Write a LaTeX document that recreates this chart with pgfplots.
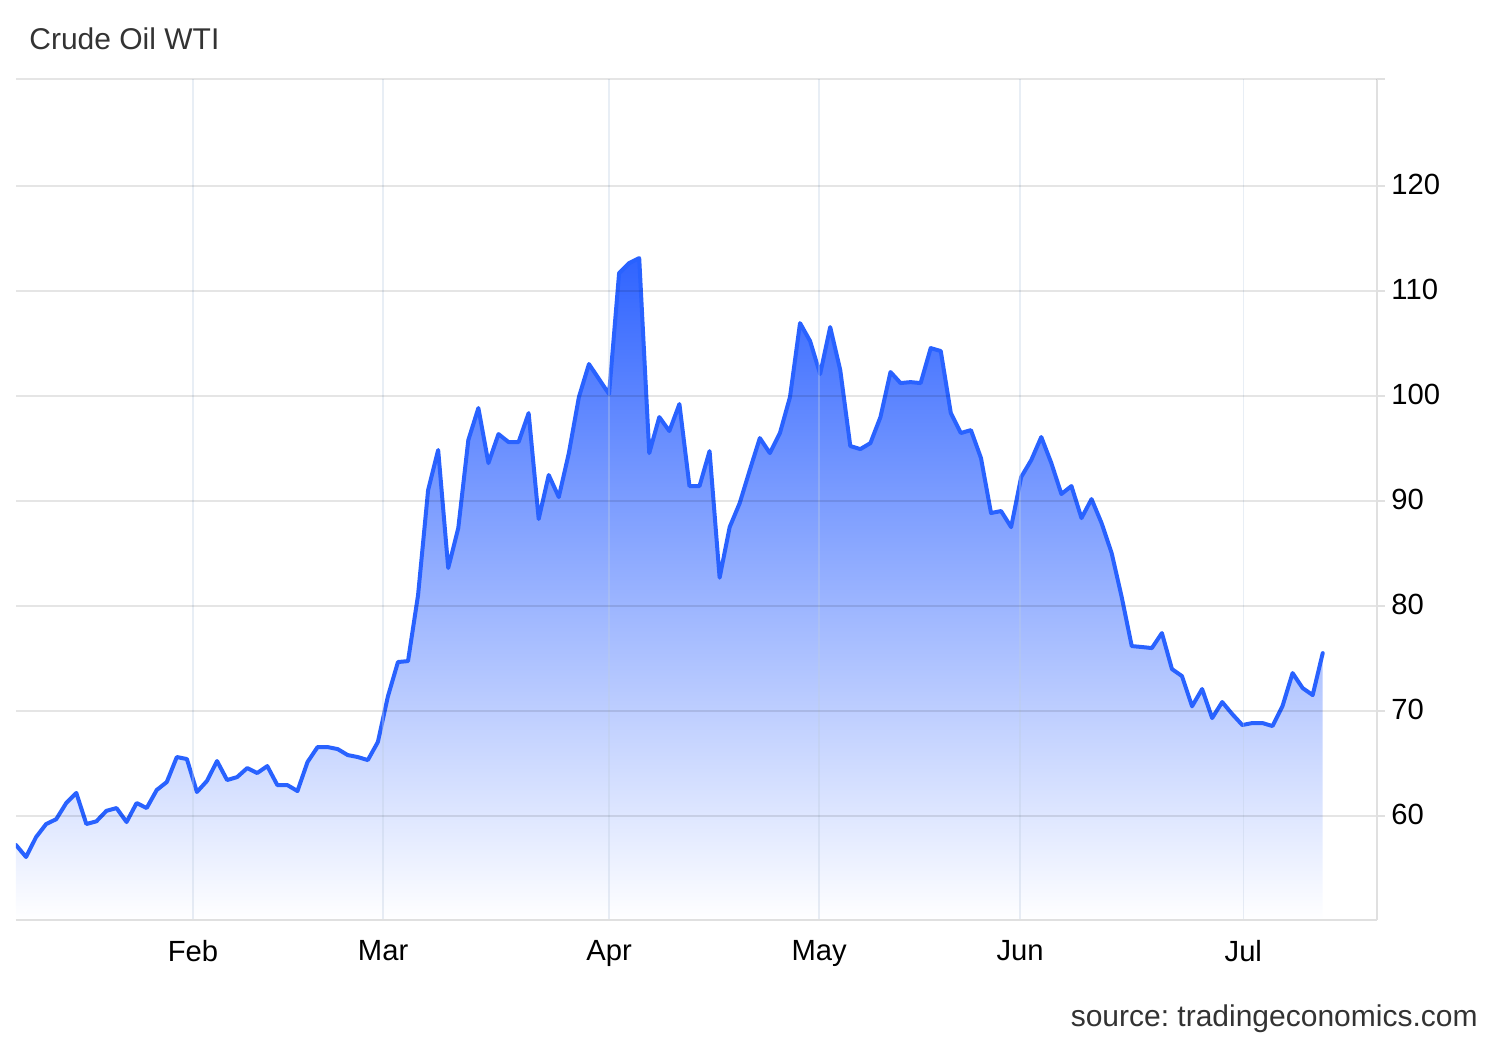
\documentclass[border=0pt]{standalone}
\usepackage{fontspec}
\setmainfont{Liberation Sans}
\usepackage{pgfplots}
\usepackage{pgfplotstable}
\pgfplotsset{compat=1.18}
\definecolor{lineblue}{RGB}{41,98,255}
\definecolor{fillblue}{RGB}{48,100,255}
\definecolor{axgray}{RGB}{224,224,224}
\definecolor{vgrid}{RGB}{190,205,225}
\definecolor{txt}{RGB}{51,51,51}
\pgfplotstableread{
x y
0 57.24
1 56.10
2 58.00
3 59.24
4 59.70
5 61.24
6 62.20
7 59.24
8 59.50
9 60.50
10 60.76
11 59.43
12 61.24
13 60.76
14 62.48
15 63.24
16 65.62
17 65.43
18 62.29
19 63.35
20 65.24
21 63.43
22 63.71
23 64.57
24 64.10
25 64.76
26 62.95
27 62.95
28 62.38
29 65.14
30 66.57
31 66.57
32 66.38
33 65.81
34 65.62
35 65.33
36 67.05
37 71.40
38 74.67
39 74.76
40 81.05
41 91.05
42 94.86
43 83.62
44 87.43
45 95.81
46 98.86
47 93.62
48 96.38
49 95.62
50 95.62
51 98.38
52 88.29
53 92.48
54 90.38
55 94.57
56 99.90
57 103.05
58 101.62
59 100.19
60 111.71
61 112.67
62 113.14
63 94.57
64 98.00
65 96.67
66 99.24
67 91.43
68 91.43
69 94.76
70 82.70
71 87.52
72 89.81
73 92.95
74 96.00
75 94.57
76 96.48
77 99.90
78 106.95
79 105.24
80 102.10
81 106.57
82 102.48
83 95.24
84 94.95
85 95.52
86 98.00
87 102.29
88 101.24
89 101.33
90 101.24
91 104.57
92 104.29
93 98.38
94 96.48
95 96.76
96 94.10
97 88.86
98 89.05
99 87.52
100 92.29
101 93.90
102 96.10
103 93.62
104 90.67
105 91.43
106 88.38
107 90.19
108 87.90
109 85.05
110 80.86
111 76.19
112 76.10
113 76.00
114 77.43
115 74.00
116 73.33
117 70.45
118 72.10
119 69.33
120 70.86
121 69.71
122 68.67
123 68.86
124 68.86
125 68.57
126 70.48
127 73.62
128 72.19
129 71.52
130 75.52
}\oil
\begin{document}
\frenchspacing
\begin{tikzpicture}
\useasboundingbox (0pt,0pt) rectangle (750pt,520pt);
\begin{axis}[
  at={(8pt,60pt)}, anchor=south west,
  scale only axis, width=680.5pt, height=420.5pt,
  xmin=0, xmax=135.4, ymin=50.1, ymax=130.2,
  axis on top,
  axis x line*=bottom, axis y line*=right,
  axis line style={draw=axgray, line width=1pt},
  xtick={17.61,36.52,59.0,79.9,99.9,122.1},
  xticklabels={Feb,Mar,Apr,May,Jun,Jul},
  ytick={60,70,80,90,100,110,120},
  extra y ticks={130.2}, extra y tick labels={},
  xmajorgrids, ymajorgrids,
  major x grid style={draw=vgrid, draw opacity=0.35, line width=0.75pt},
  major y grid style={draw=black, draw opacity=0.1, line width=1pt},
  xtick style={draw=none},
  ytick style={draw=axgray, line width=1pt},
  ytick align=outside, major tick length=4pt,
  /pgf/number format/assume math mode=true,
  tick label style={font=\fontsize{14.6}{17}\selectfont, text=black},
  xticklabel style={yshift=-6.7pt},
  yticklabel style={xshift=-0.3pt, yshift=1pt},
]
\addplot[draw=none, top color=fillblue, bottom color=white, forget plot]
  table[x=x,y=y]{\oil} -- (axis cs:130,50.1) -- (axis cs:0,50.1) -- cycle;
\addplot[lineblue, line width=2pt, line join=round, line cap=round] table[x=x,y=y]{\oil};
\end{axis}
\node[anchor=base west, text=txt, font=\fontsize{15}{18}\selectfont, inner sep=0pt] at (14.5pt,495pt) {Crude Oil WTI};
\node[anchor=base east, text=txt, font=\fontsize{15}{18}\selectfont, inner sep=0pt] at (739pt,7pt) {source: tradingeconomics.com};
\end{tikzpicture}
\end{document}
